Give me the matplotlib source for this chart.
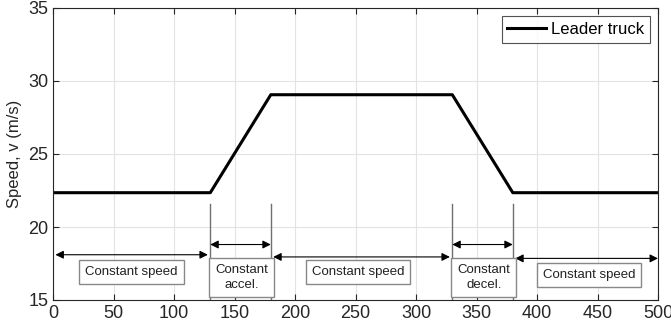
import matplotlib
matplotlib.use("Agg")
import matplotlib.pyplot as plt

plt.rcParams['font.family'] = ['Liberation Sans', 'DejaVu Sans']

# Data
time_s = [0, 130, 180, 330, 380, 500]
speed_ms = [22.35, 22.35, 29.06, 29.06, 22.35, 22.35]
phase_bounds = [130, 180, 330, 380]
arrows = [(2, 128, 18.1), (130, 180, 18.8), (182, 328, 17.95), (330, 380, 18.8), (382, 500, 17.85)]
labels = ["Constant speed", "Constant\naccel.", "Constant speed", "Constant\ndecel.", "Constant speed"]
label_pos = [(65, 16.9), (156, 16.55), (252, 16.9), (356, 16.55), (443, 16.7)]
xticks = list(range(0, 501, 50))
yticks = [15, 20, 25, 30, 35]

fig = plt.figure(figsize=(6.71, 3.32), dpi=100)
ax = fig.add_axes([53/671, 32/332, 605/671, 292/332])

ax.plot(time_s, speed_ms, color='black', lw=2.2, label='Leader truck')

for xb in phase_bounds:
    ax.plot([xb, xb], [21.6, 15.1], color='#707070', lw=1.0)

for x0, x1, y in arrows:
    ax.annotate('', xy=(x1, y), xytext=(x0, y),
                arrowprops=dict(arrowstyle='<|-|>', color='black', lw=0.8,
                                mutation_scale=12, shrinkA=0, shrinkB=0,
                                fc='black'))

for txt, (x, y) in zip(labels, label_pos):
    ax.text(x, y, txt, ha='center', va='center', fontsize=9.5, color='#222222',
            linespacing=1.3,
            bbox=dict(boxstyle='square,pad=0.45', fc='white', ec='#888888', lw=1.0))

ax.set_xlim(0, 500)
ax.set_ylim(15, 35)
ax.set_xticks(xticks)
ax.set_yticks(yticks)
ax.grid(True, color='#e3e3e3', lw=0.8)
ax.set_axisbelow(True)
ax.tick_params(direction='in', top=True, right=True, labelsize=13, colors='#262626',
               length=4, width=0.8)
for sp in ax.spines.values():
    sp.set_color('#262626')
    sp.set_linewidth(0.8)
ax.set_ylabel('Speed, v (m/s)', fontsize=12, color='#262626', labelpad=4)

leg = ax.legend(loc='upper right', fontsize=12, frameon=True, fancybox=False,
                edgecolor='#262626', handlelength=2.3, handletextpad=0.3,
                borderaxespad=0.5, borderpad=0.35)
leg.get_frame().set_linewidth(0.8)

fig.savefig('out.png', dpi=100)
